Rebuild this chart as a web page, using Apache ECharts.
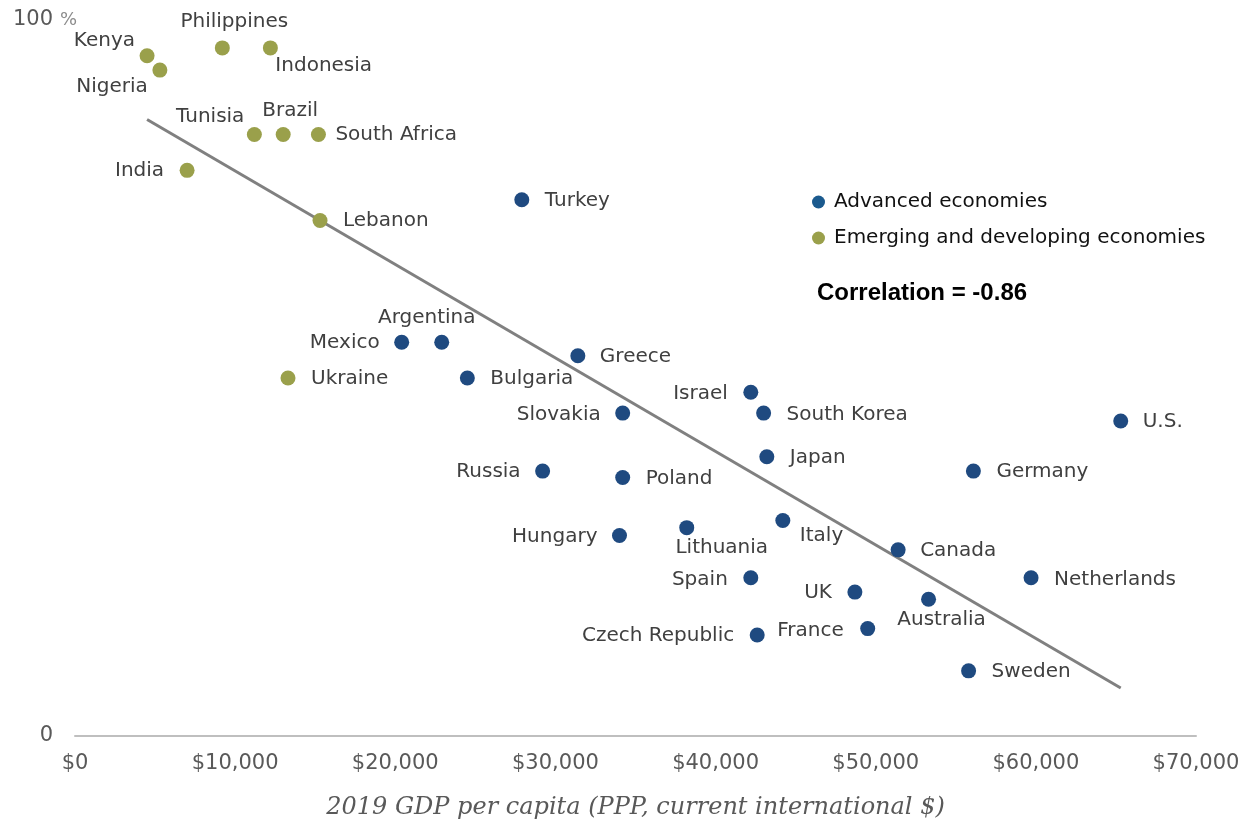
<!DOCTYPE html>
<html>
<head>
<meta charset="utf-8">
<script src="https://cdn.jsdelivr.net/npm/echarts@6/dist/echarts.min.js"></script>
<style>
html,body{margin:0;padding:0;background:#fff;}
#chart{width:1252px;height:825px;}
</style>
</head>
<body>
<div id="chart"></div>
<script>
// ---- Data ----
const emergingNames = ['Kenya','Nigeria','Philippines','Indonesia','Tunisia','Brazil','South Africa','India','Lebanon','Ukraine'];
const emergingGdp   = [4500, 5300, 9200, 12200, 11200, 13000, 15200, 7000, 15300, 13300];
const emergingPct   = [95.0, 93.0, 96.1, 96.1, 84.0, 84.0, 84.0, 79.0, 72.0, 50.0];

const advancedNames = ['Turkey','Mexico','Argentina','Greece','Bulgaria','Israel','Slovakia','South Korea','U.S.','Japan','Russia','Germany','Poland','Hungary','Lithuania','Italy','Canada','Spain','Netherlands','UK','Australia','France','Czech Republic','Sweden'];
const advancedGdp   = [27900, 20400, 22900, 31400, 24500, 42200, 34200, 43000, 65300, 43200, 29200, 56100, 34200, 34000, 38200, 44200, 51400, 42200, 59700, 48700, 53300, 49500, 42600, 55800];
const advancedPct   = [74.9, 55.0, 55.0, 53.1, 50.0, 48.0, 45.1, 45.1, 44.0, 39.0, 37.0, 37.0, 36.1, 28.0, 29.1, 30.1, 26.0, 22.1, 22.1, 20.1, 19.1, 15.0, 14.1, 9.1];

const trendGdp = [4500, 65300];
const trendPct = [86.1, 6.7];

const xTickValues = [0, 10000, 20000, 30000, 40000, 50000, 60000, 70000];
const yTickValues = [0, 100];

const seriesNames = ['Advanced economies', 'Emerging and developing economies'];
const xAxisTitle = '2019 GDP per capita (PPP, current international $)';
const correlationText = 'Correlation = -0.86';

// ---- Label placement (offset from dot centre, alignment) ----
const labelPlace = {
  'Kenya':[-12,-15,'right'], 'Nigeria':[-12,17,'right'], 'Philippines':[12,-26,'center'],
  'Indonesia':[5,18,'left'], 'Tunisia':[-10,-18,'right'], 'Brazil':[7,-24,'center'],
  'South Africa':[17,0,'left'], 'India':[-23,0,'right'], 'Lebanon':[23,0,'left'],
  'Ukraine':[23,1,'left'], 'Turkey':[23,1,'left'], 'Mexico':[-22,1,'right'],
  'Argentina':[-15,-24,'center'], 'Greece':[22,1,'left'], 'Bulgaria':[23,1,'left'],
  'Israel':[-23,1,'right'], 'Slovakia':[-22,2,'right'], 'South Korea':[23,2,'left'],
  'U.S.':[22,1,'left'], 'Japan':[23,1,'left'], 'Russia':[-22,1,'right'],
  'Germany':[23,1,'left'], 'Poland':[23,1,'left'], 'Hungary':[-22,1,'right'],
  'Lithuania':[35,20,'center'], 'Italy':[17,15,'left'], 'Canada':[22,1,'left'],
  'Spain':[-23,2,'right'], 'Netherlands':[23,2,'left'], 'UK':[-23,1,'right'],
  'Australia':[13,21,'center'], 'France':[-24,2,'right'], 'Czech Republic':[-23,1,'right'],
  'Sweden':[23,1,'left']
};

const SYM = 15;
const FONT = '"DejaVu Sans", "Liberation Sans", Arial, sans-serif';

function buildPoints(names, xs, ys) {
  return names.map((n, i) => {
    const p = labelPlace[n] || [20, 0, 'left'];
    return {
      name: n,
      value: [xs[i], ys[i]],
      label: {
        show: true,
        formatter: n,
        position: [SYM / 2 + p[0], SYM / 2 + p[1]],
        align: p[2],
        verticalAlign: 'middle'
      }
    };
  });
}

const chart = echarts.init(document.getElementById('chart'), null, {renderer: 'canvas'});

const labelStyle = { color: '#404040', fontSize: 20, fontFamily: FONT };

chart.setOption({
  animation: false,
  backgroundColor: '#ffffff',
  grid: { left: 75, right: 56, top: 20, bottom: 87, containLabel: false },
  xAxis: {
    type: 'value', min: 0, max: 70000, interval: 10000,
    axisLine: { show: true, lineStyle: { color: '#bfbfbf', width: 2 } },
    axisTick: { show: false },
    splitLine: { show: false },
    axisLabel: {
      margin: 17, color: '#595959', fontSize: 21, fontFamily: FONT,
      formatter: v => xTickValues.includes(v) ? '$' + v.toLocaleString('en-US') : ''
    },
    name: xAxisTitle,
    nameLocation: 'middle',
    nameGap: 60,
    nameTextStyle: { fontFamily: '"DejaVu Serif", Georgia, serif', fontStyle: 'italic', fontSize: 24, color: '#595959' }
  },
  yAxis: {
    type: 'value', min: 0, max: 100, interval: 100,
    axisLine: { show: false }, axisTick: { show: false }, splitLine: { show: false },
    axisLabel: {
      margin: 22, color: '#595959', fontSize: 21, fontFamily: FONT,
      formatter: v => yTickValues.includes(v) ? String(v) : ''
    }
  },
  legend: {
    left: 807, top: 187, orient: 'vertical', itemGap: 16,
    itemWidth: 13, itemHeight: 13, icon: 'circle',
    textStyle: { color: '#111111', fontSize: 20, fontFamily: FONT, padding: [0, 0, 0, 4] },
    data: [
      { name: seriesNames[0], itemStyle: { color: '#1b5a8e' } },
      { name: seriesNames[1], itemStyle: { color: '#9aa04b' } }
    ]
  },
  graphic: [
    { type: 'text', left: 60, top: 11, style: { text: '%', fill: '#8c8c8c', fontSize: 18, fontFamily: FONT } },
    { type: 'text', left: 817, top: 281, style: { text: correlationText, fill: '#000', fontSize: 24, fontWeight: 'bold', fontFamily: '"Liberation Sans Narrow", "Liberation Sans", Arial, sans-serif' } }
  ],
  series: [
    {
      name: 'trend', type: 'line', z: 1,
      data: trendGdp.map((x, i) => [x, trendPct[i]]),
      showSymbol: false, symbol: 'none', silent: true,
      lineStyle: { color: '#808080', width: 3 }
    },
    {
      name: seriesNames[0], type: 'scatter', z: 3, symbolSize: SYM,
      itemStyle: { color: '#1f4a80', opacity: 1 },
      label: labelStyle,
      data: buildPoints(advancedNames, advancedGdp, advancedPct)
    },
    {
      name: seriesNames[1], type: 'scatter', z: 3, symbolSize: SYM,
      itemStyle: { color: '#9aa04b', opacity: 1 },
      label: labelStyle,
      data: buildPoints(emergingNames, emergingGdp, emergingPct)
    }
  ]
});
</script>
</body>
</html>
